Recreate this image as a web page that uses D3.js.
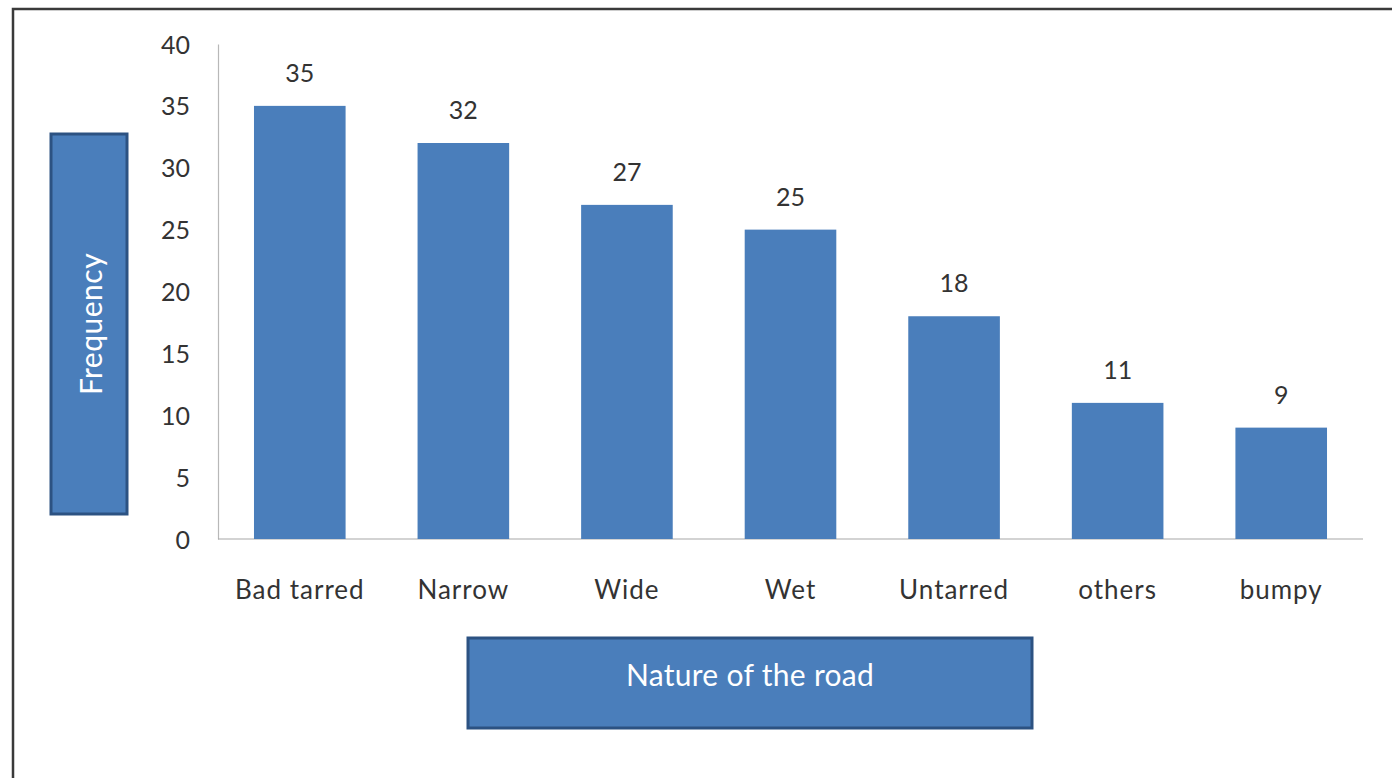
<!DOCTYPE html>
<html>
<head>
<meta charset="utf-8">
<script src="https://cdn.jsdelivr.net/npm/d3@7"></script>
<style>
  html, body { margin: 0; padding: 0; background: #fff; }
  svg { display: block; }
  text { font-family: Lato, "Open Sans", sans-serif; }
</style>
</head>
<body>
<svg id="chart" width="1392" height="778"></svg>
<script>
const categories = ["Bad tarred", "Narrow", "Wide", "Wet", "Untarred", "others", "bumpy"];
const frequency = [35, 32, 27, 25, 18, 11, 9];
const yTicks = [0, 5, 10, 15, 20, 25, 30, 35, 40];
const yTitle = "Frequency";
const xTitle = "Nature of the road";

const svg = d3.select("#chart");
const W = 1392, H = 778;
const plot = { left: 218, right: 1363, top: 44, bottom: 539 };

svg.append("rect").attr("width", W).attr("height", H).attr("fill", "#fff");

// outer frame (left & top visible)
svg.append("rect")
  .attr("x", 13).attr("y", 9)
  .attr("width", W + 20).attr("height", H + 20)
  .attr("fill", "none").attr("stroke", "#3a3a3a").attr("stroke-width", 2.5);

const x = d3.scaleBand().domain(categories).range([plot.left, plot.right]).paddingInner(0.44).paddingOuter(0.22);
const y = d3.scaleLinear().domain([0, 40]).range([plot.bottom, plot.top]);

// axes
const yAxis = d3.axisLeft(y).tickValues(yTicks).tickSize(0).tickPadding(28);
const gy = svg.append("g").attr("transform", `translate(${plot.left},0)`).call(yAxis);
gy.select(".domain").attr("stroke", "#b8b8b8").attr("stroke-width", 1.2);
gy.selectAll("text").attr("font-size", 25).attr("fill", "#333").attr("dy", "0.36em");

const xAxis = d3.axisBottom(x).tickSize(0).tickPadding(42);
const gx = svg.append("g").attr("transform", `translate(0,${plot.bottom})`).call(xAxis);
gx.select(".domain").attr("stroke", "#a8a8a8").attr("stroke-width", 1.2)
  .attr("d", `M${plot.left},0H${plot.right}`);
gx.selectAll("text").attr("font-size", 26).attr("letter-spacing", 1).attr("fill", "#333");

// bars
svg.append("g").selectAll("rect").data(frequency).join("rect")
  .attr("x", (d, i) => x(categories[i]))
  .attr("y", d => y(d))
  .attr("width", x.bandwidth())
  .attr("height", d => y(0) - y(d))
  .attr("fill", "#4a7ebb");

// value labels
svg.append("g").selectAll("text").data(frequency).join("text")
  .attr("x", (d, i) => x(categories[i]) + x.bandwidth() / 2)
  .attr("y", d => y(d) - 24)
  .attr("text-anchor", "middle")
  .attr("font-size", 25).attr("fill", "#333")
  .text(d => d);

// y title box
svg.append("rect").attr("x", 51).attr("y", 134).attr("width", 76).attr("height", 380)
  .attr("fill", "#4a7ebb").attr("stroke", "#2c5282").attr("stroke-width", 3);
svg.append("text")
  .attr("transform", `translate(90,${134 + 190}) rotate(-90)`)
  .attr("text-anchor", "middle").attr("dominant-baseline", "central")
  .attr("font-size", 30).attr("letter-spacing", 0.5).attr("fill", "#fff")
  .text(yTitle);

// x title box
svg.append("rect").attr("x", 468).attr("y", 638).attr("width", 564).attr("height", 90)
  .attr("fill", "#4a7ebb").attr("stroke", "#2c5282").attr("stroke-width", 3);
svg.append("text")
  .attr("x", 750).attr("y", 674)
  .attr("text-anchor", "middle").attr("dominant-baseline", "central")
  .attr("font-size", 30).attr("letter-spacing", 0.3).attr("fill", "#fff")
  .text(xTitle);
</script>
</body>
</html>
